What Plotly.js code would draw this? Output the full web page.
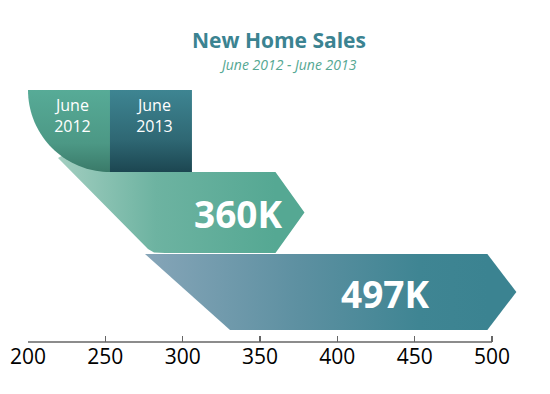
<!DOCTYPE html>
<html>
<head>
<meta charset="utf-8">
<script src="https://cdn.plot.ly/plotly-3.0.1.min.js"></script>
<style>
  html, body { margin: 0; padding: 0; background: #ffffff; }
  #chart { width: 550px; height: 394px; }
</style>
</head>
<body>
<div id="chart"></div>
<script>
// ---- data ----
const categories = ['June 2012', 'June 2013'];
const values = [360, 497];
const valueLabels = ['360K', '497K'];
const tickValues = [200, 250, 300, 350, 400, 450, 500];
const tickLabels = ['200', '250', '300', '350', '400', '450', '500'];
const titleText = 'New Home Sales';
const subtitleText = 'June 2012 - June 2013';

// ---- styling / geometry (decorative, in axis units) ----
const X_MIN = 200, X_MAX = 500;
const U = 300 / 464;             // axis units per pixel
const PLOT_W = 514;              // plot area width in px (extra room right of 500 for the arrow tip)
const X_VIEW_MAX = X_MIN + PLOT_W * U;
const Y_MAX = 252;               // hidden vertical axis, plot height units
const tipLen = 29 * U;           // arrow tip length
const rows = [                   // vertical band for each ribbon
  { bottom: 89, top: 170 },
  { bottom: 12, top: 88 }
];
const tabBottom = 170, tabTop = Y_MAX;
const tabWidth = 53;

const greenScale = [[0, '#a2cec0'], [0.45, '#6db3a1'], [1, '#55a893']];
const blueScale  = [[0, '#86a5b8'], [0.45, '#5d90a1'], [0.8, '#3f8593'], [1, '#3b8391']];
const tab1Scale  = [[0, '#3a7a69'], [0.35, '#4c9885'], [1, '#57ab97']];
const tab2Scale  = [[0, '#1c4651'], [0.4, '#2f6874'], [1, '#3e8592']];

const traces = [];

// ribbon for June 2013 (bottom)
(function () {
  const r = rows[1], v = values[1];
  const mid = (r.top + r.bottom) / 2;
  const leftTop = X_MIN + 117 * U, leftBot = X_MIN + 202 * U;
  traces.push({
    type: 'scatter', mode: 'none', fill: 'toself', hoverinfo: 'skip', showlegend: false,
    x: [leftTop, v, v + tipLen, v, leftBot, leftTop],
    y: [r.top, r.top, mid, r.bottom, r.bottom, r.top],
    fillgradient: { type: 'horizontal', colorscale: blueScale, start: leftTop, stop: v }
  });
})();

// ribbon for June 2012 (upper), runs behind the tabs
(function () {
  const r = rows[0], v = values[0];
  const mid = (r.top + r.bottom) / 2;
  const diagTopX = X_MIN + 30 * U, diagTopY = 184;
  const diagBotX = X_MIN + 120 * U;
  const hidX1 = X_MIN + 62 * U, hidX2 = X_MIN + 157 * U, hidY = 202;
  traces.push({
    type: 'scatter', mode: 'none', fill: 'toself', hoverinfo: 'skip', showlegend: false,
    x: [diagTopX, hidX1, hidX2, hidX2, v, v + tipLen, v,
        diagBotX + 17 * U, diagBotX + 6 * U, diagBotX, diagTopX],
    y: [diagTopY, hidY, hidY, r.top, r.top, mid, r.bottom,
        r.bottom, r.bottom + 0.6, r.bottom + 4, diagTopY],
    fillgradient: { type: 'horizontal', colorscale: greenScale, start: diagTopX, stop: v }
  });
})();

// tab June 2012 with curved lower-left edge
(function () {
  const cx = X_MIN + tabWidth, cy = tabTop;
  const rx = tabWidth, ry = tabTop - tabBottom;
  const xs = [cx], ys = [cy];
  for (let i = 0; i <= 36; i++) {
    const t = Math.PI + (Math.PI / 2) * (i / 36);
    xs.push(cx + rx * Math.cos(t));
    ys.push(cy + ry * Math.sin(t));
  }
  xs.push(cx); ys.push(cy);
  traces.push({
    type: 'scatter', mode: 'none', fill: 'toself', hoverinfo: 'skip', showlegend: false,
    x: xs, y: ys,
    fillgradient: { type: 'vertical', colorscale: tab1Scale, start: tabBottom, stop: tabTop }
  });
})();

// tab June 2013
(function () {
  const x0 = X_MIN + tabWidth, x1 = X_MIN + 2 * tabWidth;
  traces.push({
    type: 'scatter', mode: 'none', fill: 'toself', hoverinfo: 'skip', showlegend: false,
    x: [x0, x1, x1, x0, x0],
    y: [tabBottom, tabBottom, tabTop, tabTop, tabBottom],
    fillgradient: { type: 'vertical', colorscale: tab2Scale, start: tabBottom, stop: tabTop }
  });
})();

const annotations = [];
// tab labels
categories.forEach((c, i) => {
  const parts = c.split(' ');
  annotations.push({
    x: X_MIN + tabWidth * (i + 0.5) + 2, y: 227, xref: 'x', yref: 'y',
    text: parts[0] + '<br>' + parts[1], showarrow: false,
    font: { family: 'Open Sans', size: 16, color: '#ffffff' },
    xanchor: 'center', yanchor: 'middle', align: 'center'
  });
});
// value labels
const labelShift = [-24, -66];
valueLabels.forEach((t, i) => {
  const r = rows[i];
  annotations.push({
    x: values[i] + labelShift[i], y: (r.top + r.bottom) / 2 - 1, xref: 'x', yref: 'y',
    text: '<b>' + t + '</b>', showarrow: false,
    font: { family: 'Open Sans', size: 37, color: '#ffffff' },
    xanchor: 'center', yanchor: 'middle'
  });
});
// title and subtitle (paper coords relative to plot area)
const pxToPaperX = px => (px - 28) / PLOT_W;
annotations.push({
  x: pxToPaperX(279), y: 1.2, xref: 'paper', yref: 'paper', showarrow: false,
  text: '<b>' + titleText + '</b>',
  font: { family: 'Open Sans', size: 21, color: '#3b8391' },
  xanchor: 'center', yanchor: 'middle'
});
annotations.push({
  x: pxToPaperX(288), y: 1.103, xref: 'paper', yref: 'paper', showarrow: false,
  text: '<i>' + subtitleText + '</i>',
  font: { family: 'Open Sans', size: 14, color: '#55a893' },
  xanchor: 'center', yanchor: 'middle'
});

const layout = {
  width: 550, height: 394,
  margin: { l: 28, r: 550 - 28 - PLOT_W, t: 90, b: 52, pad: 0 },
  paper_bgcolor: '#ffffff', plot_bgcolor: '#ffffff',
  showlegend: false,
  xaxis: {
    range: [X_MIN, X_VIEW_MAX], tickvals: tickValues, ticktext: tickLabels,
    ticks: 'inside', ticklen: 6, tickwidth: 1.3, tickcolor: '#666666',
    showline: false, showgrid: false, zeroline: false, fixedrange: true,
    tickfont: { family: 'Open Sans', size: 21, color: '#000000' },
    ticklabelstandoff: 0
  },
  yaxis: {
    range: [0, Y_MAX], visible: false, showgrid: false, zeroline: false, fixedrange: true
  },
  shapes: [{
    type: 'line', xref: 'x', yref: 'paper',
    x0: X_MIN, x1: X_MAX, y0: 0, y1: 0,
    line: { color: '#666666', width: 1.3 }
  }],
  annotations: annotations
};

Plotly.newPlot('chart', traces, layout, { displayModeBar: false, staticPlot: true });
</script>
</body>
</html>
